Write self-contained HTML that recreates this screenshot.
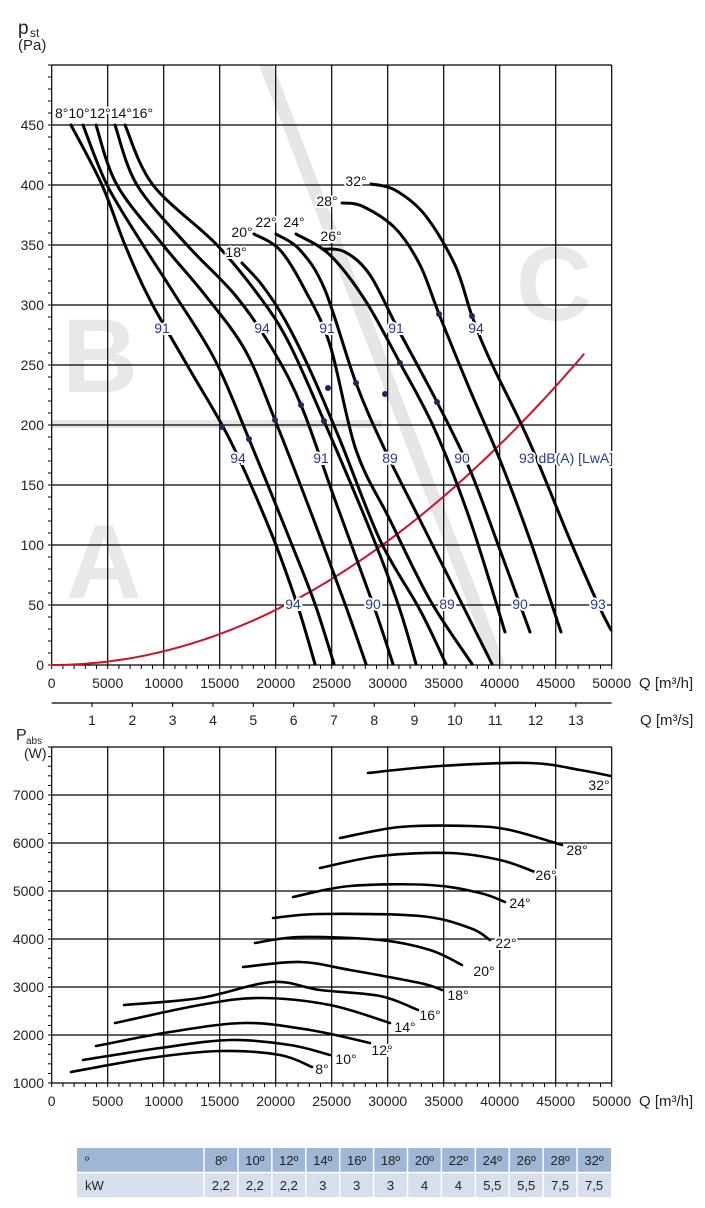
<!DOCTYPE html>
<html><head><meta charset="utf-8">
<style>
html,body{margin:0;padding:0;background:#fff;}
svg{display:block;font-family:"Liberation Sans","DejaVu Sans",sans-serif;}
</style></head>
<body>
<svg id="s" width="705" height="1208" viewBox="0 0 705 1208" xmlns="http://www.w3.org/2000/svg">
<g id="bg" fill="#e6e6e6">
  <polygon points="259,65 273,65 505,664 491,664"/>
  <rect x="52" y="420" width="330" height="8"/>
  <text x="62" y="392" font-size="105" font-weight="bold" fill="#e8e8e8">B</text>
  <text x="66" y="598" font-size="105" font-weight="bold" fill="#e8e8e8">A</text>
  <text x="516" y="320" font-size="105" font-weight="bold" fill="#e8e8e8">C</text>
</g>
<g id="grid1" stroke="#000" stroke-width="1.2" fill="none"></g>
<g id="grid2" stroke="#000" stroke-width="1.2" fill="none"></g>
<g id="curves" stroke="#000" stroke-width="3" fill="none" stroke-linecap="round"></g>
<g id="labels" font-size="14"></g>
</svg>
<script>
(function(){
var NS="http://www.w3.org/2000/svg",S=document.getElementById('s');
function el(p,t,a,txt){var e=document.createElementNS(NS,t);for(var k in a)e.setAttribute(k,a[k]);if(txt!=null)e.textContent=txt;p.appendChild(e);return e;}
var g1=document.getElementById('grid1'),g2=document.getElementById('grid2'),C=document.getElementById('curves'),L=document.getElementById('labels');
function sx(q){return 51.7+q*0.01120;}
for(var i=0;i<=10;i++){var x=sx(i*5000);el(g1,'line',{x1:x,y1:65,x2:x,y2:665});}
for(var p=0;p<=500;p+=50){var y=665-p*1.2;el(g1,'line',{x1:51.7,y1:y,x2:611.7,y2:y});}
for(var p=0;p<=500;p+=10){var y=665-p*1.2;el(g1,'line',{x1:48,y1:y,x2:51.7,y2:y,'stroke-width':1});}
for(var q=0;q<=50000;q+=1000){var x=sx(q);el(g1,'line',{x1:x,y1:665,x2:x,y2:669,'stroke-width':1});}
for(var p=0;p<=450;p+=50){el(L,'text',{x:44,y:665-p*1.2+5,'text-anchor':'end','font-size':14,fill:'#222'},p);}
for(var i=0;i<=10;i++){el(L,'text',{x:sx(i*5000),y:688,'text-anchor':'middle','font-size':14,fill:'#222'},i*5000);}
el(L,'text',{x:639,y:688,'font-size':15,fill:'#222'},'Q [m³/h]');
el(L,'text',{x:18,y:34,'font-size':19,fill:'#222'},'p');
el(L,'text',{x:30,y:37,'font-size':12,fill:'#222'},'st');
el(L,'text',{x:18,y:50,'font-size':15,fill:'#222'},'(Pa)');
el(g1,'line',{x1:51.7,y1:703,x2:611.7,y2:703});
for(var i=1;i<=13;i++){var x=sx(i*3600);el(g1,'line',{x1:x,y1:703,x2:x,y2:707,'stroke-width':1});el(L,'text',{x:x,y:725,'text-anchor':'middle','font-size':14,fill:'#222'},i);}
el(L,'text',{x:640,y:725,'font-size':15,fill:'#222'},'Q [m³/s]');
function sy2(w){return 1083-(w-1000)*0.048;}
for(var i=0;i<=10;i++){var x=sx(i*5000);el(g2,'line',{x1:x,y1:747,x2:x,y2:1083});}
for(var w=1000;w<=8000;w+=1000){var y=sy2(w);el(g2,'line',{x1:51.7,y1:y,x2:611.7,y2:y});}
for(var w=1000;w<=8000;w+=200){var y=sy2(w);el(g2,'line',{x1:48,y1:y,x2:51.7,y2:y,'stroke-width':1});}
for(var q=0;q<=50000;q+=1000){var x=sx(q);el(g2,'line',{x1:x,y1:1083,x2:x,y2:1087,'stroke-width':1});}
for(var w=1000;w<=7000;w+=1000){el(L,'text',{x:44,y:sy2(w)+5,'text-anchor':'end','font-size':14,fill:'#222'},w);}
for(var i=0;i<=10;i++){el(L,'text',{x:sx(i*5000),y:1106,'text-anchor':'middle','font-size':14,fill:'#222'},i*5000);}
el(L,'text',{x:639,y:1106,'font-size':15,fill:'#222'},'Q [m³/h]');
el(L,'text',{x:16,y:740,'font-size':16,fill:'#222'},'P');
el(L,'text',{x:26,y:744,'font-size':10,fill:'#222'},'abs');
el(L,'text',{x:24,y:758,'font-size':14,fill:'#222'},'(W)');
var d='';for(var q=0;q<=47970;q+=500){var pp=264*Math.pow(q/47970,2);d+=(q?'L':'M')+sx(q).toFixed(1)+','+(665-pp*1.2).toFixed(1);}
el(C,'path',{d:d,stroke:'#d0102a','stroke-width':2});
function cr(pts){var s='M'+pts[0][0]+','+pts[0][1];for(var i=0;i<pts.length-1;i++){var p0=pts[i-1]||pts[i],p1=pts[i],p2=pts[i+1],p3=pts[i+2]||p2;
s+='C'+(p1[0]+(p2[0]-p0[0])/6).toFixed(1)+','+(p1[1]+(p2[1]-p0[1])/6).toFixed(1)+' '+(p2[0]-(p3[0]-p1[0])/6).toFixed(1)+','+(p2[1]-(p3[1]-p1[1])/6).toFixed(1)+' '+p2[0]+','+p2[1];}return s;}
var topc=[
[[71,125],[102,185],[125,245],[150,300],[190,370],[230,440],[270,530],[297,604],[315,664]],
[[83,125],[107,185],[143,245],[175,295],[215,360],[249,439],[290,540],[315,604],[334,664]],
[[96,125],[117,185],[163,245],[205,295],[245,350],[275,420],[310,510],[345,604],[366,664]],
[[115,125],[137,185],[187,245],[235,295],[270,345],[301,405],[335,500],[373,604],[393,664]],
[[125,125],[153,185],[217,245],[262,300],[290,345],[324,421],[370,530],[398,604],[416,664]],
[[242,263],[262,285],[285,320],[310,370],[340,440],[380,540],[420,610],[446,664]],
[[254,234],[280,250],[305,290],[330,345],[356,450],[390,520],[430,600],[472,664]],
[[276,234],[300,250],[325,290],[356,383],[385,450],[420,520],[460,600],[492,664]],
[[296,234],[330,255],[365,300],[400,363],[435,430],[470,520],[505,632]],
[[322,249],[345,252],[370,275],[398,329],[437,402],[470,470],[500,550],[530,632]],
[[342,203],[362,206],[395,228],[420,265],[439,314],[470,390],[500,460],[530,540],[561,632]],
[[371,184],[395,190],[425,215],[455,265],[472,316],[490,360],[529,441],[570,540],[598,604],[611,630]]];
topc.forEach(function(p){el(C,'path',{d:cr(p)});});
var bot=[
[[71,1072],[150,1058],[220,1051],[280,1055],[312,1067]],
[[83,1060],[160,1048],[230,1040],[290,1045],[330,1055]],
[[96,1046],[170,1032],[245,1023],[310,1030],[370,1043]],
[[115,1023],[200,1005],[260,998],[330,1005],[390,1023]],
[[124,1005],[200,998],[272,982],[320,990],[380,996],[418,1010]],
[[243,967],[300,962],[350,970],[420,983],[442,990]],
[[255,943],[300,937],[380,940],[430,950],[462,965]],
[[273,918],[320,914],[420,916],[470,928],[490,940]],
[[293,897],[350,886],[430,885],[480,893],[505,902]],
[[320,868],[380,856],[450,853],[500,860],[535,872]],
[[340,838],[400,827],[470,826],[510,830],[562,845]],
[[368,773],[440,766],[530,763],[580,770],[611,776]]];
bot.forEach(function(p){el(C,'path',{d:cr(p),'stroke-width':2.6});});
[[222,427],[249,439],[275,420],[301,405],[324,421],[328,388],[356,383],[385,394],[400,363],[437,402],[439,314],[472,316]].forEach(function(p){el(C,'circle',{cx:p[0],cy:p[1],r:3,fill:'#1a2a60',stroke:'none'});});
function lab(x,y,t,col,anchor){el(L,'text',{x:x,y:y,'text-anchor':anchor||'middle','font-size':14,fill:col||'#111',stroke:'#fff','stroke-width':4,'paint-order':'stroke'},t);}
var blue='#2a3a8a';
[[162,333,'91'],[262,333,'94'],[327,333,'91'],[396,333,'91'],[476,333,'94'],[238,463,'94'],[321,463,'91'],[390,463,'89'],[462,463,'90'],[293,609,'94'],[373,609,'90'],[447,609,'89'],[520,609,'90'],[598,609,'93']].forEach(function(a){lab(a[0],a[1],a[2],blue);});
lab(519,463,'93 dB(A) [LwA]',blue,'start');
lab(55,118,'8°10°12°14°16°','#111','start');
[[236,257,'18°'],[242,237,'20°'],[266,227,'22°'],[294,227,'24°'],[331,241,'26°'],[327,206,'28°'],[356,186,'32°']].forEach(function(a){lab(a[0],a[1],a[2]);});
[[322,1074,'8°'],[346,1064,'10°'],[382,1055,'12°'],[405,1032,'14°'],[430,1020,'16°'],[458,1000,'18°'],[484,976,'20°'],[506,948,'22°'],[520,908,'24°'],[546,880,'26°'],[577,855,'28°'],[599,790,'32°']].forEach(function(a){lab(a[0],a[1],a[2]);});
var T=el(S,'g',{});
el(T,'rect',{x:77,y:1148,width:534,height:24,fill:'#9fb6d6'});
el(T,'rect',{x:77,y:1173,width:534,height:24,fill:'#d6dfeb'});
var hdr=['8º','10º','12º','14º','16º','18º','20º','22º','24º','26º','28º','32º'],kw=['2,2','2,2','2,2','3','3','3','4','4','5,5','5,5','7,5','7,5'];
var cw=(611-204)/12;
for(var i=0;i<12;i++){var x=204+i*cw;el(T,'line',{x1:x,y1:1148,x2:x,y2:1197,stroke:'#fff','stroke-width':1.5});
el(T,'text',{x:x+cw/2,y:1165,'text-anchor':'middle','font-size':13,fill:'#222'},hdr[i]);
el(T,'text',{x:x+cw/2,y:1190,'text-anchor':'middle','font-size':13,fill:'#222'},kw[i]);}
el(T,'line',{x1:77,y1:1172.5,x2:611,y2:1172.5,stroke:'#fff','stroke-width':1.5});
el(T,'text',{x:85,y:1164,'font-size':11,fill:'#222'},'º');
el(T,'text',{x:85,y:1190,'font-size':13,fill:'#222'},'kW');
})();
</script>
</body></html>
